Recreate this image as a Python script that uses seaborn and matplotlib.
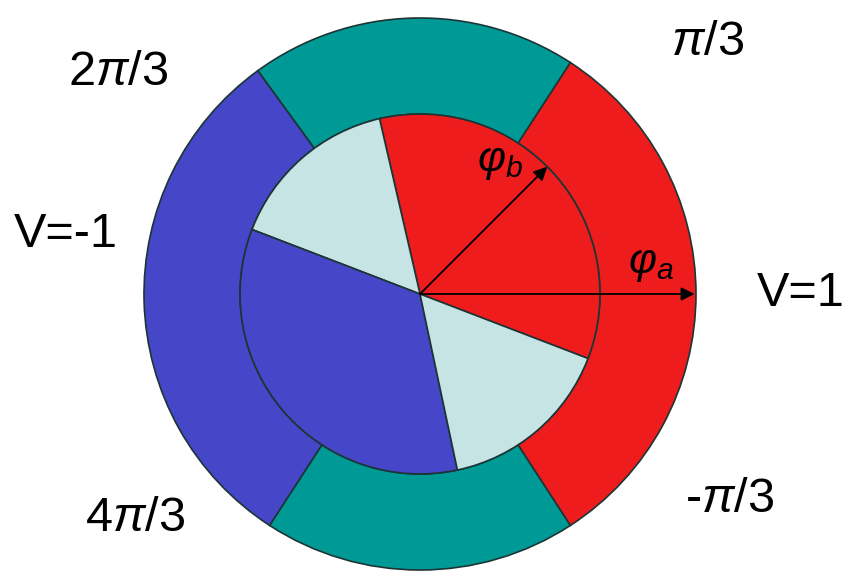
import matplotlib
matplotlib.use("Agg")
import matplotlib.pyplot as plt
import seaborn as sns
import numpy as np

# Outer ring: phase sectors of the reference (degrees, counter-clockwise from outer_start)
outer_start = -57
outer_sizes = [114, 69, 111, 66]
outer_colors = ["#ee1c1c", "#009a96", "#4646c8", "#009a96"]

# Inner disk: sectors of the measured phase
inner_start = -21
inner_sizes = [124, 56, 123, 57]
inner_colors = ["#ee1c1c", "#c6e4e4", "#4646c8", "#c6e4e4"]

inner_radius = 0.652

# Angle labels around the ring and phase arrow directions
ring_labels = ["2$\\pi$/3", "$\\pi$/3", "V=-1", "V=1", "4$\\pi$/3", "-$\\pi$/3"]
arrow_angles = [0, 45]          # phi_a, phi_b in degrees
arrow_lengths = [0.995, inner_radius]
arrow_names = ["$\\varphi_a$", "$\\varphi_b$"]

sns.set_theme(style="white")
plt.rcParams["font.family"] = ["Liberation Sans", "DejaVu Sans"]
plt.rcParams["mathtext.fontset"] = "custom"
plt.rcParams["mathtext.rm"] = "Liberation Sans"
plt.rcParams["mathtext.it"] = "Liberation Sans:italic"

fig = plt.figure(figsize=(8.48, 5.75), dpi=100)
ax = fig.add_axes([0, 0, 1, 1])

edge = "#1c3434"
ax.pie(outer_sizes, startangle=outer_start, colors=outer_colors, radius=1.0,
       counterclock=True,
       wedgeprops=dict(width=1 - inner_radius, edgecolor=edge, linewidth=1.2))
ax.pie(inner_sizes, startangle=inner_start, colors=inner_colors, radius=inner_radius,
       counterclock=True,
       wedgeprops=dict(edgecolor=edge, linewidth=1.2))

# Phase arrows from the centre
for ang, length in zip(arrow_angles, arrow_lengths):
    t = np.deg2rad(ang)
    ax.annotate("", xy=(length * np.cos(t), length * np.sin(t)), xytext=(0, 0),
                arrowprops=dict(arrowstyle="-|>", color="black", lw=1.3,
                                mutation_scale=20, shrinkA=0, shrinkB=0))

name_pos = [(0.835, 0.11), (0.29, 0.48)]
for name, (x, y) in zip(arrow_names, name_pos):
    ax.text(x, y, name, fontsize=31, ha="center", va="center", color="black")

label_pos = [(-1.094, 0.804), (1.043, 0.913), (-1.283, 0.214), (1.38, 0.0),
             (-1.033, -0.812), (1.123, -0.746)]
for lab, (x, y) in zip(ring_labels, label_pos):
    ax.text(x, y, lab, fontsize=35, ha="center", va="center", color="black")

ax.set_aspect("equal")
ax.set_xlim(-420 / 276, 428 / 276)
ax.set_ylim(-281 / 276, 294 / 276)
ax.set_axis_off()

fig.savefig("out.png", dpi=100, facecolor="white")
